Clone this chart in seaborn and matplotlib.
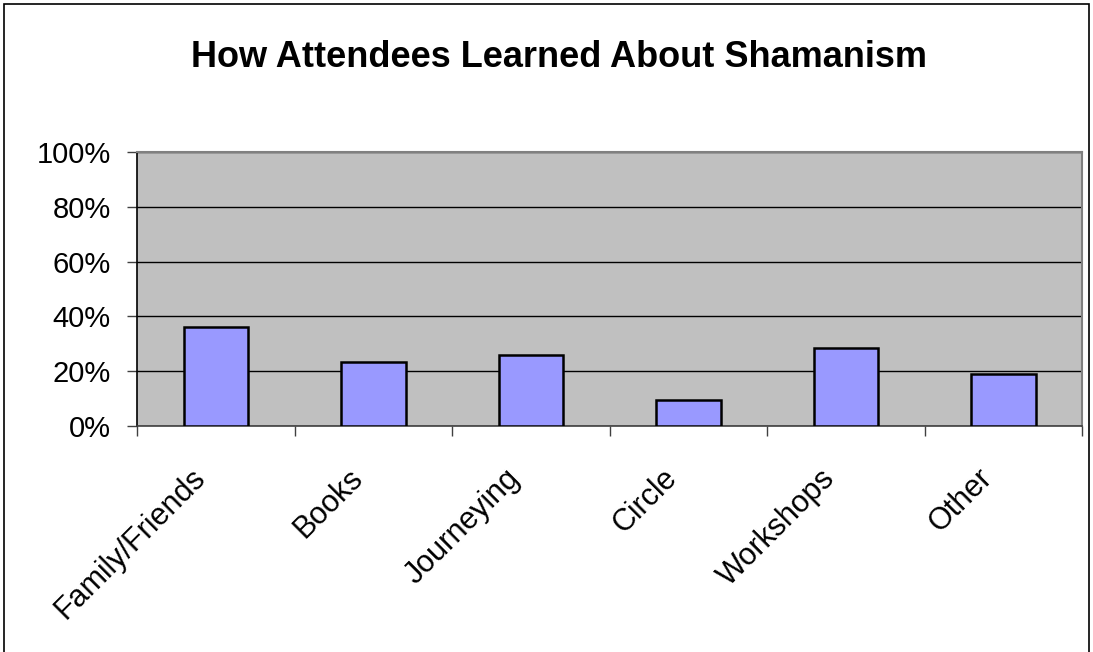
import matplotlib
matplotlib.use("Agg")
import matplotlib.pyplot as plt
import matplotlib.patches as mpatches
import matplotlib.transforms as mtransforms
from matplotlib.ticker import FixedLocator, PercentFormatter
import seaborn as sns
import pandas as pd

# Survey results: share of attendees by source
categories = ["Family/Friends", "Books", "Journeying", "Circle", "Workshops", "Other"]
shares = [36.2, 23.2, 25.9, 9.4, 28.3, 18.9]
y_ticks = [0, 20, 40, 60, 80, 100]
title = "How Attendees Learned About Shamanism"

df = pd.DataFrame({"source": categories, "share": shares})

sns.set_style("white")
plt.rcParams["font.family"] = ["Liberation Sans", "DejaVu Sans"]
plt.rcParams["text.color"] = "black"

fig = plt.figure(figsize=(10.93, 6.52), dpi=100)
ax = fig.add_axes([0.1256, 0.3471, 0.8646, 0.4193])

sns.barplot(data=df, x="source", y="share", ax=ax, color="#9999FF",
            saturation=1, width=0.41, edgecolor="black", linewidth=1.8,
            zorder=3)

ax.set_facecolor("#C0C0C0")
ax.set_xlim(-0.5, len(categories) - 0.5)
ax.set_ylim(0, 100)
ax.set_yticks(y_ticks)
ax.yaxis.set_major_formatter(PercentFormatter(decimals=0))
ax.grid(axis="y", color="black", linewidth=1.0, zorder=1)
ax.set_axisbelow(True)

# tick marks sit between categories, labels sit at category centres
ax.xaxis.set_minor_locator(FixedLocator([i - 0.5 for i in range(len(categories) + 1)]))
ax.tick_params(axis="x", which="major", length=0, pad=27, labelcolor="black")
ax.tick_params(axis="x", which="minor", length=7, width=1, color="#404040",
               direction="out", bottom=True)
ax.tick_params(axis="y", length=7, width=1, color="#404040", direction="out",
               left=True, labelsize=21, pad=12, labelcolor="black")
shift = mtransforms.ScaledTranslation(-26 / 100, 0, fig.dpi_scale_trans)
for lab in ax.get_xticklabels():
    lab.set_rotation(45)
    lab.set_ha("right")
    lab.set_va("top")
    lab.set_rotation_mode("anchor")
    lab.set_fontsize(22)
    lab.set_transform(lab.get_transform() + shift)

ax.set_xlabel("")
ax.set_ylabel("")

for side in ("top", "right"):
    ax.spines[side].set_color("#808080")
    ax.spines[side].set_linewidth(1.5)
ax.spines["left"].set_color("black")
ax.spines["left"].set_linewidth(1.2)
ax.spines["bottom"].set_color("#404040")
ax.spines["bottom"].set_linewidth(1.2)

fig.text(0.511, 0.912, title, ha="center", va="center",
         fontsize=26, fontweight="bold", color="black")

# outer chart frame
frame = mpatches.Rectangle((4 / 1093, -0.02), 1085 / 1093, 1.02 - 3.5 / 652,
                           transform=fig.transFigure, fill=False,
                           edgecolor="black", linewidth=1.2)
fig.patches.append(frame)

fig.savefig("out.png", dpi=100, facecolor="white")
